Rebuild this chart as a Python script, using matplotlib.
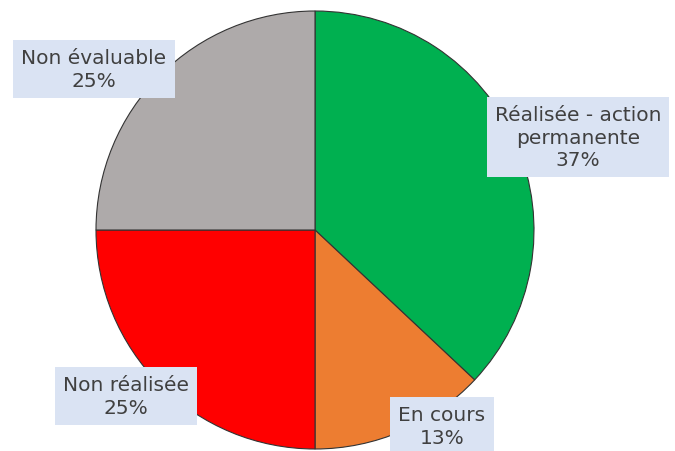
import matplotlib
matplotlib.use("Agg")
import matplotlib.pyplot as plt

labels = ["Réalisée - action\npermanente", "En cours", "Non réalisée", "Non évaluable"]
values = [37, 13, 25, 25]
colors = ["#00b050", "#ed7d31", "#ff0000", "#aeaaaa"]
# label box centres in pixel coords (x, y from top)
label_pos = [(578, 138), (442, 427), (126, 397), (94, 70)]

fig = plt.figure(figsize=(6.75, 4.52), dpi=100)
ax = fig.add_axes([0, 0, 1, 1])

ax.pie(values, colors=colors, startangle=90, counterclock=False,
       center=(315, 452 - 231), radius=219,
       wedgeprops=dict(edgecolor="#333333", linewidth=0.8))

for lab, v, (px, py) in zip(labels, values, label_pos):
    ax.text(px, 452 - py, "%s\n%d%%" % (lab, v), ha="center", va="center",
            fontsize=14.5, color="#404040", family="DejaVu Sans", linespacing=1.25,
            bbox=dict(boxstyle="square,pad=0.4", facecolor="#dae3f3", edgecolor="none"))

ax.set_xlim(0, 675)
ax.set_ylim(0, 452)
ax.set_aspect("auto")
ax.axis("off")

plt.savefig("out.png", dpi=100)
